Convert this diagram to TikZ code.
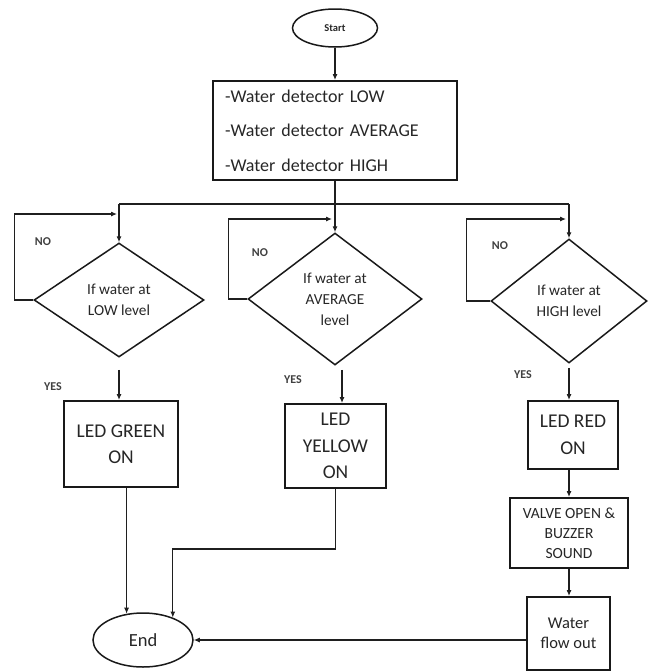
\documentclass[tikz,border=0pt]{standalone}
\usepackage{fontspec}
\setmainfont{Carlito}
\usetikzlibrary{shapes.geometric,arrows.meta,calc}
\begin{document}
\begin{tikzpicture}[x=1pt,y=-1pt,
  line/.style={draw=black!88, line width=1.1pt},
  arr/.style={line, -{Latex[length=6pt,width=5pt]}},
  term/.style={ellipse, draw=black!90, line width=1.5pt, inner sep=0pt, text=black!85},
  procbox/.style={rectangle, draw=black!90, line width=2pt, inner sep=0pt, align=center, text=black!85},
  decision/.style={diamond, draw=black!90, line width=1.5pt, inner sep=0pt, align=center, text=black!85, font=\fontsize{15.3}{21}\selectfont},
  lbl/.style={font=\fontsize{12}{13}\selectfont\bfseries, text=black!75, inner sep=0pt},
  ledtext/.style={font=\fontsize{19.5}{26.5}\selectfont}
]
\useasboundingbox (0,0) rectangle (648,672);

% nodes
\node[term, minimum width=85pt, minimum height=38pt, font=\fontsize{10.5}{12}\selectfont\bfseries] (st) at (335,28) {Start};
\node[procbox, minimum width=244pt, minimum height=99pt, text width=220pt, inner xsep=12pt, align=left, font=\fontsize{18}{34.5}\selectfont] (det) at (335,130.5) {-Water detector LOW\\-Water detector AVERAGE\\-Water detector HIGH};

\node[decision, minimum width=170pt, minimum height=114pt] (d1) at (119,300) {If water at\\LOW level};
\node[decision, minimum width=174pt, minimum height=132pt] (d2) at (335,299) {If water at\\AVERAGE\\level};
\node[decision, minimum width=156pt, minimum height=124pt] (d3) at (569,301) {If water at\\HIGH level};

\node[procbox, ledtext, minimum width=114pt, minimum height=86pt] (green) at (121,444) {LED GREEN\\ON};
\node[procbox, ledtext, minimum width=101pt, minimum height=84pt] (yellow) at (335.5,446) {LED\\YELLOW\\ON};
\node[procbox, ledtext, minimum width=90pt, minimum height=68pt] (red) at (573,435) {LED RED\\ON};
\node[procbox, minimum width=118pt, minimum height=70pt, font=\fontsize{15.5}{20}\selectfont] (valve) at (569,533) {VALVE OPEN \&\\BUZZER\\SOUND};
\node[procbox, minimum width=83pt, minimum height=73pt, font=\fontsize{16.5}{20}\selectfont] (water) at (568.5,633.5) {Water\\flow out};
\node[term, minimum width=100pt, minimum height=54pt, font=\fontsize{18.5}{20}\selectfont] (fin) at (143,640) {End};

% labels
\node[lbl] (no1) at (43,242) {NO};
\node[lbl] (no2) at (260,253) {NO};
\node[lbl] (no3) at (500,246) {NO};
\node[lbl] (yes1) at (53,387) {YES};
\node[lbl] (yes2) at (293,380) {YES};
\node[lbl] (yes3) at (523,375) {YES};

% connectors
\coordinate (bus) at (0,204);
\draw[arr] (st) -- (det);
\draw[line] (d1.north |- bus) -- (d3.north |- bus);
\draw[arr] (det.south) -- (d2.north);
\draw[arr] (d1.north |- bus) -- (d1.north);
\draw[arr] (d3.north |- bus) -- (d3.north);

\draw[arr] (d1.west) -- ++(-19,0) |- ($(d1.north |- bus)+(-2,10)$);
\draw[arr] (d2.west) -- ++(-19,0) |- ($(d2.north |- bus)+(-3,15)$);
\draw[arr] (d3.west) -- ++(-24,0) |- ($(d3.north |- bus)+(-3,15)$);

\draw[arr] ($(d1.south)+(0,12)$) -- (d1.south |- green.north);
\draw[arr] ($(d2.south)+(7,4)$) -- ($(d2.south |- yellow.north)+(7,0)$);
\draw[arr] ($(d3.south)+(0,4)$) -- (d3.south |- red.north);

\draw[arr] (green.south -| fin.122) -- (fin.122);
\draw[arr] (yellow.south) -- ++(0,60) -| (fin.37);
\draw[arr] (valve.north |- red.south) -- (valve.north);
\draw[arr] (valve.south) -- (valve.south |- water.north);
\draw[arr] (water.west |- fin.east) -- (fin.east);
\end{tikzpicture}
\end{document}
